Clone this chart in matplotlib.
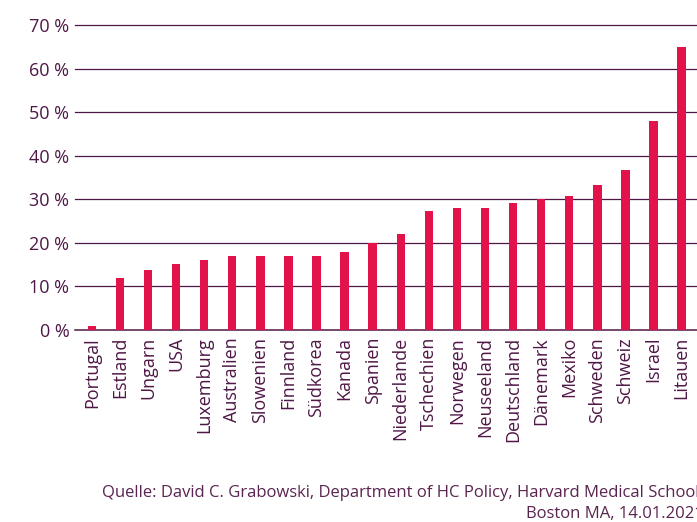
import matplotlib.pyplot as plt
import numpy as np

plt.rcParams['font.family'] = ['Open Sans', 'DejaVu Sans']

laender = ['Portugal', 'Estland', 'Ungarn', 'USA', 'Luxemburg', 'Australien',
           'Slowenien', 'Finnland', 'Südkorea', 'Kanada', 'Spanien', 'Niederlande',
           'Tschechien', 'Norwegen', 'Neuseeland', 'Deutschland', 'Dänemark',
           'Mexiko', 'Schweden', 'Schweiz', 'Israel', 'Litauen']
werte = [0.9, 12.0, 13.8, 15.2, 16.1, 17.0, 17.0, 17.0, 17.0, 18.0, 19.9, 22.1,
         27.2, 28.1, 28.1, 29.1, 30.0, 30.8, 33.2, 36.8, 47.9, 65.0]
yticks = [0, 10, 20, 30, 40, 50, 60, 70]

rot = '#e2124a'
lila = '#4f1745'

fig = plt.figure(figsize=(6.97, 5.22), dpi=100)
ax = fig.add_axes([75 / 697, 192 / 522, 1 - 75 / 697, (330 - 25) / 522])

x = np.arange(len(laender))
ax.bar(x, werte, width=0.30, color=rot, zorder=3)

ax.set_ylim(0, 70)
ax.set_xlim(-0.6, 21.55)
ax.set_yticks(yticks)
ax.set_yticklabels([f'{v} %' for v in yticks])
for v in yticks:
    ax.axhline(v, color=lila, lw=1.1 if v == 0 else 0.9, zorder=1, clip_on=False)

ax.set_xticks(x)
ax.set_xticklabels(laender, rotation=90, ha='center', va='top')
ax.tick_params(axis='both', length=0, labelsize=13, colors=lila)
ax.tick_params(axis='x', pad=5)
ax.tick_params(axis='y', pad=4)
for s in ax.spines.values():
    s.set_visible(False)

# Quellenangabe, rechts wie im Original leicht angeschnitten
fig.text(1.004, 1 - 493 / 522, 'Quelle: David C. Grabowski, Department of HC Policy, Harvard Medical School',
         ha='right', va='center', fontsize=12, color='#5a2450')
fig.text(1.010, 1 - 514 / 522, 'Boston MA, 14.01.2021',
         ha='right', va='center', fontsize=12, color='#5a2450')

fig.savefig('out.png', dpi=100)
